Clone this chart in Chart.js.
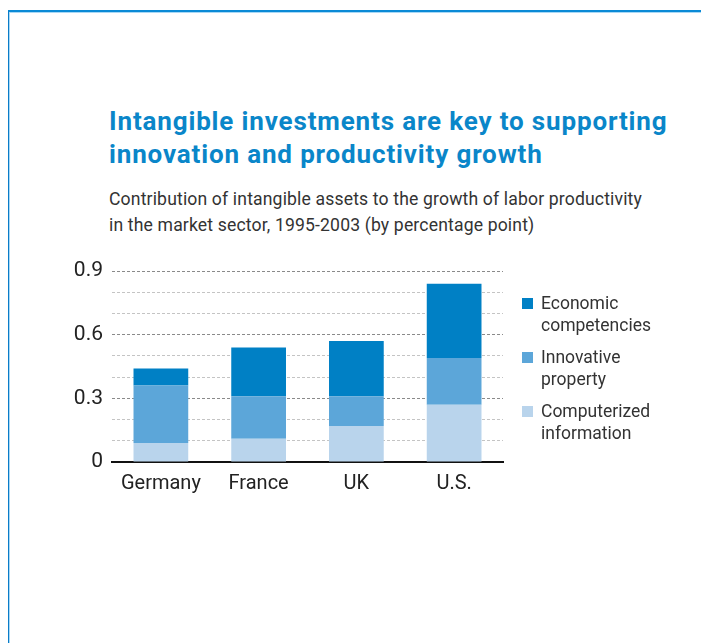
<!DOCTYPE html>
<html>
<head>
<meta charset="utf-8">
<script src="https://cdn.jsdelivr.net/npm/chart.js@4"></script>
<style>
  html, body { margin: 0; padding: 0; background: #fff; }
  body { width: 701px; height: 643px; position: relative; overflow: hidden; font-family: Roboto, "Liberation Sans", sans-serif; }
  .frame { position: absolute; left: 8px; top: 10px; right: -5px; bottom: -5px;
           border-top: 2px solid #0a8ad6; border-left: 1px solid #0a7cc8; box-shadow: inset 1px 1px 0 #a9d8f5; }
  .title { position: absolute; left: 109px; top: 105px; margin: 0; font-size: 26px; line-height: 33px;
           font-weight: bold; color: #0a86c9; letter-spacing: 0.85px; white-space: nowrap; }
  .sub { position: absolute; left: 109px; top: 186px; margin: 0; font-size: 17.6px; line-height: 26px; color: #333;
         letter-spacing: 0.15px; white-space: nowrap; }
  canvas { position: absolute; left: 0; top: 0; }
  .legend { position: absolute; left: 522px; top: 292px; color: #333; font-size: 17.5px; line-height: 22px; }
  .item { position: relative; padding-left: 19px; margin-bottom: 10px; }
  .item span { position: absolute; left: 0; top: 6px; width: 11px; height: 11px; }
</style>
</head>
<body>
<div class="frame"></div>
<h1 class="title">Intangible investments are key to supporting<br>innovation and productivity growth</h1>
<p class="sub">Contribution of intangible assets to the growth of labor productivity<br>in the market sector, 1995-2003 (by percentage point)</p>
<canvas id="chart" width="701" height="643"></canvas>
<div class="legend" id="legend"></div>
<script>
// data (percentage points)
const countries = ['Germany', 'France', 'UK', 'U.S.']
const computerized = [0.09, 0.11, 0.17, 0.27]
const innovative = [0.27, 0.20, 0.14, 0.22]
const economic = [0.08, 0.23, 0.26, 0.35]
const series_names = [['Computerized', 'information'], ['Innovative', 'property'], ['Economic', 'competencies']]
const series_colors = ['#b9d4ec', '#5ca6d9', '#0080c5']

const datasets = [computerized, innovative, economic].map((data, i) => ({
    label: series_names[i].join(' '),
    data,
    backgroundColor: series_colors[i],
    borderWidth: 0,
    barPercentage: 0.56,
    categoryPercentage: 1,
}))

new Chart(document.getElementById('chart'), {
    type: 'bar',
    data: { labels: countries, datasets },
    options: {
        responsive: false,
        animation: false,
        layout: { padding: { left: 60, right: 198, top: 271, bottom: 141 } },
        plugins: { legend: { display: false }, tooltip: { enabled: false } },
        scales: {
            x: {
                stacked: true,
                afterFit: (scale) => { scale.height = 40 },
                grid: { display: false, drawTicks: false },
                border: { display: true, color: '#111', width: 2 },
                ticks: { color: '#222', font: { family: 'Roboto', size: 20 }, padding: 10 },
            },
            y: {
                stacked: true,
                min: 0,
                max: 0.9,
                afterFit: (scale) => { scale.width = 52 },
                border: { display: false, dash: [3, 2] },
                grid: {
                    drawTicks: false,
                    color: (ctx) => (ctx.index % 3 === 0 ? '#8a8a8a' : '#c4c4c4'),
                    lineWidth: 1,
                },
                ticks: {
                    stepSize: 0.1,
                    autoSkip: false,
                    padding: 9,
                    color: '#222',
                    font: { family: 'Roboto', size: 21 },
                    callback: (v, i) => (i % 3 === 0 ? (i === 0 ? '0' : v.toFixed(1)) : ''),
                },
            },
        },
    },
})

// legend, top to bottom
const legend_elem = document.getElementById('legend')
;[2, 1, 0].forEach(i => {
    const item = document.createElement('div')
    item.className = 'item'
    item.innerHTML = `<span style="background:${series_colors[i]}"></span>${series_names[i][0]}<br>${series_names[i][1]}`
    legend_elem.appendChild(item)
})
</script>
</body>
</html>
